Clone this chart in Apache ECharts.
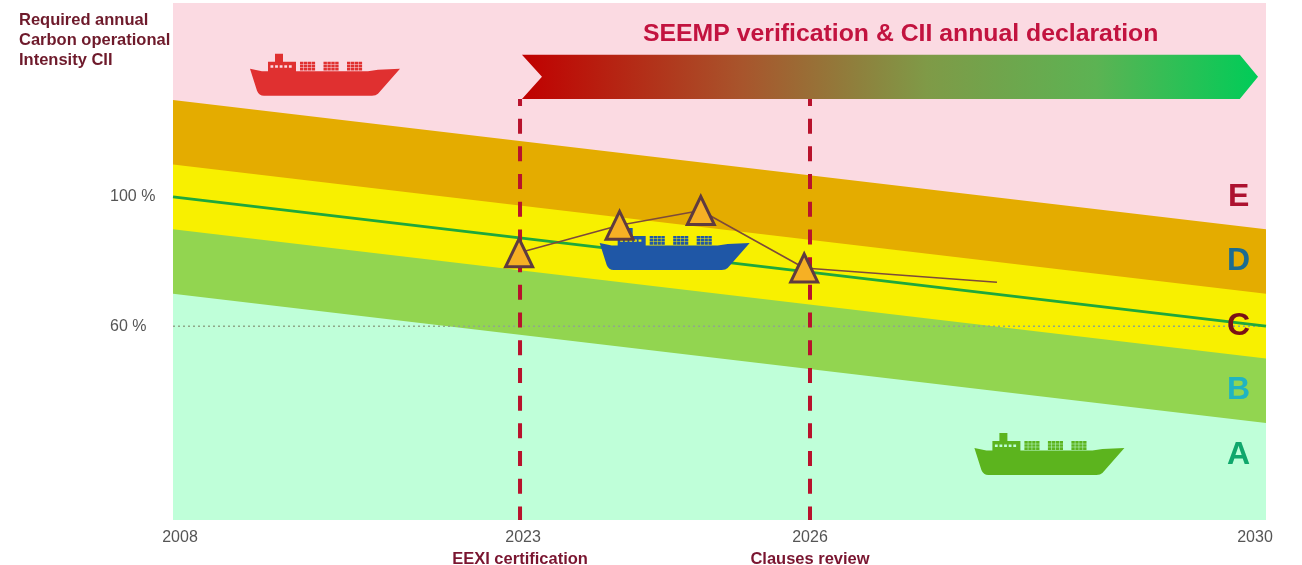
<!DOCTYPE html>
<html>
<head>
<meta charset="utf-8">
<style>html,body{margin:0;padding:0;background:#fff}#chart{width:1302px;height:565px}</style>
<script src="https://cdn.jsdelivr.net/npm/echarts@6/dist/echarts.min.js"></script>
</head>
<body>
<div id="chart"></div>
<script>
// Timeline: the years on the axis are not evenly spaced, so each year is placed
// by interpolating between these anchors.
const tickYears = [2008, 2023, 2026, 2030];
const tickStops = [0, 31.75, 58.28, 100];
const tickCaptions = { 2023: 'EEXI certification', 2026: 'Clauses review' };
const percentTicks = [60, 100];

// Upper edge of each rating band at the start and end of the period, in percent
// of the 2008 reference.
const spanYears = [2008, 2030];
const bandE = [160, 160];
const bandD = [130, 90];
const bandC = [110, 70];
const bandB = [90, 50];
const bandA = [70, 30];
const requiredCII = [100, 60];
const referenceLevel = [60, 60];

// Attained CII of one ship, year by year.
const attainedYears = [2022.96, 2024.03, 2024.87, 2025.94, 2027.64];
const attainedCII = [82.7, 91.2, 95.8, 78, 73.6];

// Review milestones.
const milestoneYears = [2023, 2026];
const milestoneTop = 130.3;

// Rating letters.
const ratingNames = ['E', 'D', 'C', 'B', 'A'];
const ratingLevels = [100, 80, 60, 40.3, 20.2];
const ratingColors = ['#ad1230', '#1c6c90', '#7a1016', '#1fb4c2', '#10a76c'];
const ratingYear = 2029.76;

// Ships: performance class examples.
const shipYears = [2014.57, 2024.6, 2028.1];
const shipLevels = [137.8, 83.9, 20.4];
const shipColors = ['#e03030', '#1f57a6', '#5cb41e'];

// Verification banner: [start, body end, tip, top, bottom].
const banner = [2023.02, 2029.77, 2029.93, 144, 130.3];

function place(year) {
  for (let i = 1; i < tickYears.length; i++) {
    if (year <= tickYears[i]) {
      const t = (year - tickYears[i - 1]) / (tickYears[i] - tickYears[i - 1]);
      return tickStops[i - 1] + t * (tickStops[i] - tickStops[i - 1]);
    }
  }
  return 100;
}

// Builds the ship silhouette as one path; windows are cut with reversed rectangles.
function rect(x, y, w, h) { return `M${x} ${y}L${x + w} ${y}L${x + w} ${y + h}L${x} ${y + h}Z`; }
function hole(x, y, w, h) { return `M${x} ${y}L${x} ${y + h}L${x + w} ${y + h}L${x + w} ${y}Z`; }
function shipPath() {
  let d = 'M0 15L12 17.5L118 17.5L128 16L150 15L128 40Q126 42 122 42L14 42Q9 42 7 37Z';
  d += rect(25, 0, 8, 8) + rect(18, 8, 28, 10);
  for (let w = 0; w < 5; w++) d += hole(20.5 + w * 4.6, 11.5, 2.8, 2.4);
  [50, 73.5, 97].forEach(cx => {
    for (let c = 0; c < 4; c++) {
      for (let r = 0; r < 3; r++) d += rect(cx + c * 3.9, 8 + r * 3.1, 3.4, 2.6);
    }
  });
  return 'path://' + d;
}

const axisPoints = spanYears.map(place);
// Bands are painted from the top down, each one filling to the bottom of the grid.
function bandSeries(name, values, color) {
  return {
    name, type: 'line', symbol: 'none', silent: true, z: 1,
    lineStyle: { width: 0 }, areaStyle: { color, opacity: 1, origin: 'start' },
    data: values.map((v, i) => [axisPoints[i], v])
  };
}
function milestoneSeries(year) {
  return {
    type: 'line', symbol: 'none', silent: true, z: 4,
    lineStyle: { color: '#b8122c', width: 4, type: [15, 12.7], dashOffset: 8 },
    data: [[place(year), milestoneTop], [place(year), 0]]
  };
}

const chart = echarts.init(document.getElementById('chart'), null, { renderer: 'canvas' });
chart.setOption({
  animation: false,
  backgroundColor: '#fff',
  title: [
    {
      text: 'Required annual\nCarbon operational\nIntensity CII', left: 14, top: 5,
      textStyle: { color: '#6e1a2b', fontFamily: 'Liberation Sans', fontWeight: 'bold', fontSize: 16.5, lineHeight: 20 }
    },
    {
      text: 'SEEMP verification & CII annual declaration', left: 638, top: 17,
      textStyle: { color: '#c2133f', fontFamily: 'Liberation Sans', fontWeight: 'bold', fontSize: 24.8 }
    }
  ],
  grid: { left: 173, right: 36, top: 3, bottom: 45, outerBoundsMode: 'none' },
  xAxis: {
    type: 'value', min: 0, max: 100,
    splitLine: { show: false }, axisLine: { show: false }, axisTick: { show: false },
    axisLabel: {
      customValues: tickStops, margin: 7, showMinLabel: true, showMaxLabel: true,
      fontFamily: 'Liberation Sans', fontSize: 16, color: '#555', lineHeight: 21,
      formatter: v => {
        let i = 0;
        tickStops.forEach((s, k) => { if (Math.abs(s - v) < Math.abs(tickStops[i] - v)) i = k; });
        const year = tickYears[i];
        const caption = tickCaptions[year];
        return `{y${year}|${year}}` + (caption ? `\n{cap|${caption}}` : '');
      },
      rich: {
        y2008: { fontSize: 16, color: '#555', padding: [0, 0, 0, 14] },
        y2023: { fontSize: 16, color: '#555', padding: [0, 0, 0, 6] },
        y2026: { fontSize: 16, color: '#555' },
        y2030: { fontSize: 16, color: '#555', padding: [0, 22, 0, 0] },
        cap: { fontSize: 16.5, fontWeight: 'bold', color: '#7a1530', lineHeight: 22 }
      }
    }
  },
  yAxis: {
    type: 'value', min: 0, max: 160,
    splitLine: { show: false }, axisLine: { show: false }, axisTick: { show: false },
    axisLabel: {
      customValues: percentTicks, align: 'left', margin: 63,
      fontFamily: 'Liberation Sans', fontSize: 16, color: '#555',
      formatter: v => v + ' %'
    }
  },
  series: [
    bandSeries('E', bandE, '#fbdae2'),
    bandSeries('D', bandD, '#e4ac00'),
    bandSeries('C', bandC, '#f8f000'),
    bandSeries('B', bandB, '#92d550'),
    bandSeries('A', bandA, '#bfffd9'),
    {
      name: 'Reference level', type: 'line', symbol: 'none', silent: true, z: 2,
      lineStyle: { color: '#8fa88a', width: 1.5, type: [2, 3] },
      data: referenceLevel.map((v, i) => [axisPoints[i], v])
    },
    {
      name: 'Required CII', type: 'line', symbol: 'none', silent: true, z: 3,
      lineStyle: { color: '#1fa83c', width: 3 },
      data: requiredCII.map((v, i) => [axisPoints[i], v])
    },
    milestoneSeries(milestoneYears[0]),
    milestoneSeries(milestoneYears[1]),
    {
      name: 'Banner', type: 'custom', silent: true, z: 5,
      encode: { x: [0, 1, 2], y: [3, 4] },
      data: [[place(banner[0]), place(banner[1]), place(banner[2]), banner[3], banner[4]]],
      renderItem: (params, api) => {
        const topLeft = api.coord([api.value(0), api.value(3)]);
        const bottomLeft = api.coord([api.value(0), api.value(4)]);
        const topBody = api.coord([api.value(1), api.value(3)]);
        const bottomBody = api.coord([api.value(1), api.value(4)]);
        const midY = (topLeft[1] + bottomLeft[1]) / 2;
        const tip = [api.coord([api.value(2), api.value(3)])[0], midY];
        return {
          type: 'polygon',
          shape: { points: [topLeft, topBody, tip, bottomBody, bottomLeft, [topLeft[0] + 20, midY]] },
          style: {
            fill: new echarts.graphic.LinearGradient(0, 0, 1, 0, [
              { offset: 0, color: '#c00000' },
              { offset: 0.3, color: '#a8552c' },
              { offset: 0.55, color: '#7f9a47' },
              { offset: 0.78, color: '#5cb353' },
              { offset: 1, color: '#00cc58' }
            ])
          }
        };
      }
    },
    {
      name: 'Ships', type: 'scatter', silent: true, z: 6,
      symbol: shipPath(), symbolSize: [150, 42], symbolKeepAspect: false,
      data: shipYears.map((y, i) => ({
        value: [place(y), shipLevels[i]],
        itemStyle: { color: shipColors[i], opacity: 1 }
      }))
    },
    {
      name: 'Attained CII', type: 'line', silent: true, z: 7,
      symbol: 'triangle', symbolSize: [27, 28], showAllSymbol: true,
      lineStyle: { color: '#7d4a3a', width: 1.6 },
      itemStyle: { color: '#f6b024', borderColor: '#5f3b3f', borderWidth: 3 },
      data: attainedYears.map((y, i) => ({
        value: [place(y), attainedCII[i]],
        symbol: i === attainedYears.length - 1 ? 'none' : 'triangle'
      }))
    },
    {
      name: 'Ratings', type: 'scatter', silent: true, z: 8, symbolSize: 0,
      itemStyle: { opacity: 1 },
      data: ratingNames.map((n, i) => ({
        value: [place(ratingYear), ratingLevels[i]],
        label: {
          show: true, position: 'inside', formatter: n, opacity: 1,
          fontFamily: 'Liberation Sans', fontWeight: 'bold', fontSize: 32, color: ratingColors[i]
        }
      }))
    }
  ]
});
</script>
</body>
</html>
